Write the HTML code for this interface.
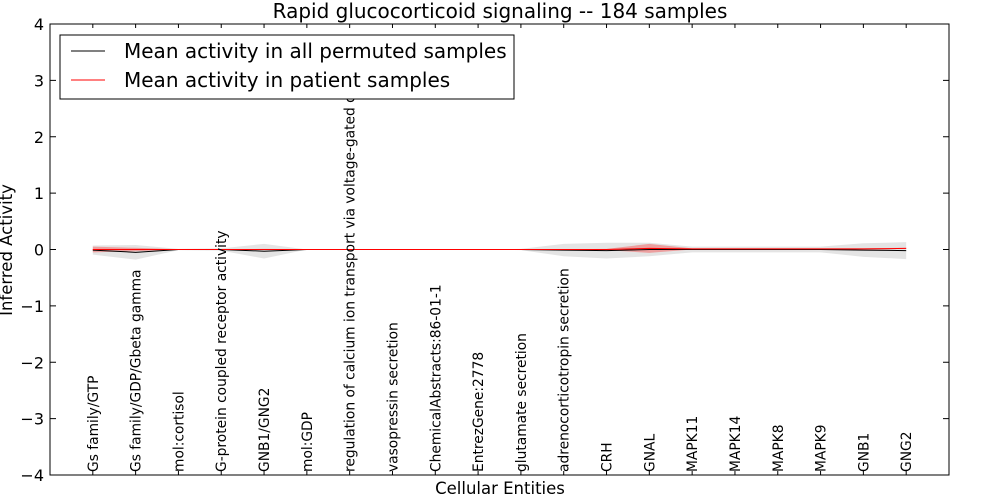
<!DOCTYPE html>
<html><head><meta charset="utf-8"><style>
body{margin:0;background:#fff;font-family:"DejaVu Sans",sans-serif}
svg text{font-family:"DejaVu Sans",sans-serif}
</style></head><body>
<svg id="c" width="1000" height="500" xmlns="http://www.w3.org/2000/svg">
<rect width="1000" height="500" fill="#fff"/>
<g id="bands"></g>
<g id="lines"></g>
<rect x="50" y="24" width="899" height="451" fill="none" stroke="#000" stroke-width="1"/>
<g id="axes"></g>
<text x="500" y="18" font-size="20" text-anchor="middle">Rapid glucocorticoid signaling -- 184 samples</text>
<text x="500" y="494" font-size="16.5" text-anchor="middle">Cellular Entities</text>
<text transform="translate(12,250) rotate(-90)" font-size="16.5" text-anchor="middle">Inferred Activity</text>
<g>
<rect x="60" y="35" width="454" height="64" fill="#fff" stroke="#000"/>
<line x1="71" y1="51" x2="105" y2="51" stroke="#000"/>
<text x="124" y="58" font-size="20">Mean activity in all permuted samples</text>
<line x1="71" y1="80" x2="105" y2="80" stroke="#f00"/>
<text x="124" y="87" font-size="20">Mean activity in patient samples</text>
</g>
</svg>
<script>
const categories=["Gs family/GTP","Gs family/GDP/Gbeta gamma","mol:cortisol","G-protein coupled receptor activity","GNB1/GNG2","mol:GDP","regulation of calcium ion transport via voltage-gated channel","vasopressin secretion","ChemicalAbstracts:86-01-1","EntrezGene:2778","glutamate secretion","adrenocorticotropin secretion","CRH","GNAL","MAPK11","MAPK14","MAPK8","MAPK9","GNB1","GNG2"];
const permMean=[-0.01,-0.05,0,0,-0.03,0,0,0,0,0,0,-0.01,-0.02,0,0,0,0,0,-0.01,-0.02];
const permStd=[0.08,0.13,0.01,0.02,0.13,0,0,0,0,0,0.01,0.11,0.14,0.12,0.05,0.05,0.05,0.05,0.12,0.15];
const patMean=[0,0,0,0,0,0,0,0,0,0,0,0,0,0.02,0.01,0.01,0.01,0.01,0.01,0.02];
const patStd=[0.05,0.03,0.005,0.005,0.01,0.005,0.005,0.005,0.005,0.005,0.005,0.005,0.01,0.08,0.01,0.01,0.01,0.01,0.01,0.01];
const yTicks=[-4,-3,-2,-1,0,1,2,3,4];
const X=i=>50+(i+1)*899/21, Y=v=>249.5-v*451/8;
const NS="http://www.w3.org/2000/svg";
function mk(t,a,p){const e=document.createElementNS(NS,t);for(const k in a)e.setAttribute(k,a[k]);p.appendChild(e);return e;}
const bands=document.getElementById('bands'),lines=document.getElementById('lines'),axes=document.getElementById('axes');
function band(m,s,fill,op){let up=m.map((v,i)=>X(i)+','+Y(v+s[i])),dn=m.map((v,i)=>X(i)+','+Y(v-s[i])).reverse();return mk('polygon',{points:up.concat(dn).join(' '),fill:fill,'fill-opacity':op},bands);}
const b1=band(permMean,permStd,'#bbb',0.4);


const b2=band(patMean,patStd,'#f00',0.3);


const l1=mk('polyline',{points:permMean.map((v,i)=>X(i)+','+Y(v)).join(' '),fill:'none',stroke:'#000','stroke-width':1},lines);


const l2=mk('polyline',{points:patMean.map((v,i)=>X(i)+','+Y(v)).join(' '),fill:'none',stroke:'#f00','stroke-width':1},lines);


yTicks.forEach(t=>{const y=Y(t);
mk('line',{x1:50,x2:56,y1:y,y2:y,stroke:'#000'},axes);
mk('line',{x1:943,x2:949,y1:y,y2:y,stroke:'#000'},axes);
const tx=mk('text',{x:44,y:y+6,'font-size':16,'text-anchor':'end'},axes);
tx.textContent=(t<0?'\u2212':'')+Math.abs(t);

});
categories.forEach((c,i)=>{const x=X(i);
mk('line',{x1:x,x2:x,y1:475,y2:471,stroke:'#000'},axes);
mk('line',{x1:x,x2:x,y1:24,y2:28,stroke:'#000'},axes);
const tx=mk('text',{transform:`translate(${x+5},472) rotate(-90)`,'font-size':13.8},axes);
tx.textContent=c;

});
</script>
</body></html>
